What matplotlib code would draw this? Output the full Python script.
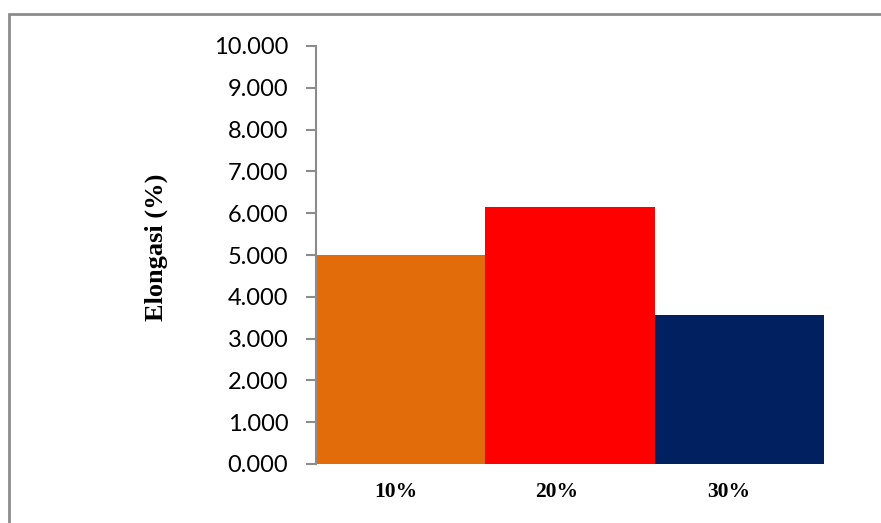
import matplotlib.pyplot as plt
from matplotlib.patches import Rectangle

# data
categories = ['10%', '20%', '30%']
elongasi = [5.00, 6.155, 3.565]
colors = ['#E36C0A', '#FF0000', '#002060']
label_shift = [-0.03, -0.08, -0.06]   # labels sit a bit left of bar centres

fig = plt.figure(figsize=(8.81, 5.23), dpi=100)

# outer gray frame (runs off the right and bottom edge)
fig.patches.append(Rectangle((9 / 881, -0.05), 1.0, 1 - 14 / 523 + 0.05,
                             transform=fig.transFigure, fill=False,
                             edgecolor='#8c8c8c', linewidth=2))

ax = fig.add_axes([316 / 881, 1 - 464 / 523, 508 / 881, 418 / 523])

x = range(len(categories))
ax.bar(x, elongasi, width=1.0, color=colors)

ax.set_xlim(-0.5, 2.5)
ax.set_ylim(0, 10)
ax.set_yticks(range(0, 11))
ax.set_yticklabels(['%.3f' % v for v in range(0, 11)], fontfamily='Lato', fontsize=17)

ax.set_xticks([i + s for i, s in zip(x, label_shift)])
ax.set_xticklabels(categories, fontfamily='Liberation Serif', fontweight='bold', fontsize=15.5)
ax.tick_params(axis='x', length=0, pad=13)
ax.tick_params(axis='y', length=7, width=1.5, color='#8c8c8c', pad=13)

for s in ['top', 'right', 'bottom']:
    ax.spines[s].set_visible(False)
ax.spines['left'].set_color('#8c8c8c')
ax.spines['left'].set_linewidth(1.5)

ax.set_ylabel('Elongasi (%)', fontfamily='Liberation Serif', fontweight='bold', fontsize=19)
ax.yaxis.set_label_coords(-0.291, 0.519)

fig.savefig('out.png', dpi=100)
